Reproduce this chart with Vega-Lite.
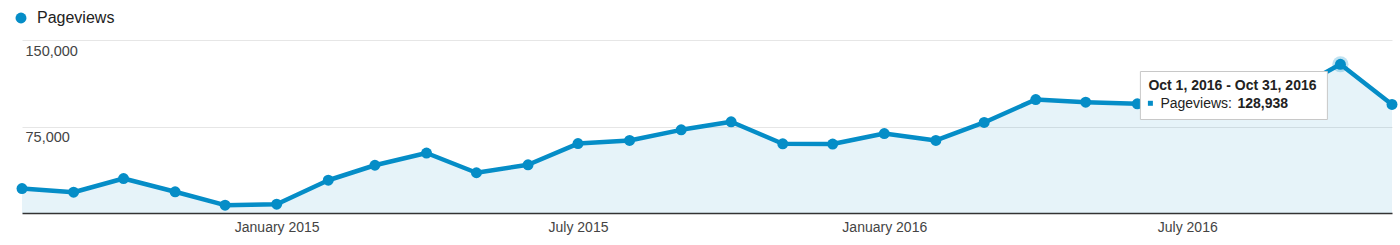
{
  "$schema": "https://vega.github.io/schema/vega-lite/v6.json",
  "autosize": {"type": "none"},
  "padding": {"left": 22, "top": 40, "right": 8, "bottom": 32},
  "width": 1370,
  "height": 173,
  "background": "white",
  "config": {"view": {"stroke": null}, "font": "Liberation Sans"},
  "data": {
    "values": [
      {"date": "2014-08-01", "pageviews": 21200},
      {"date": "2014-09-01", "pageviews": 18000},
      {"date": "2014-10-01", "pageviews": 29900},
      {"date": "2014-11-01", "pageviews": 18400},
      {"date": "2014-12-01", "pageviews": 6800},
      {"date": "2015-01-01", "pageviews": 7600},
      {"date": "2015-02-01", "pageviews": 28400},
      {"date": "2015-03-01", "pageviews": 41400},
      {"date": "2015-04-01", "pageviews": 52000},
      {"date": "2015-05-01", "pageviews": 34900},
      {"date": "2015-06-01", "pageviews": 41800},
      {"date": "2015-07-01", "pageviews": 60200},
      {"date": "2015-08-01", "pageviews": 62900},
      {"date": "2015-09-01", "pageviews": 72100},
      {"date": "2015-10-01", "pageviews": 79100},
      {"date": "2015-11-01", "pageviews": 60000},
      {"date": "2015-12-01", "pageviews": 59800},
      {"date": "2016-01-01", "pageviews": 68900},
      {"date": "2016-02-01", "pageviews": 62900},
      {"date": "2016-03-01", "pageviews": 78500},
      {"date": "2016-04-01", "pageviews": 98400},
      {"date": "2016-05-01", "pageviews": 96100},
      {"date": "2016-06-01", "pageviews": 94700},
      {"date": "2016-07-01", "pageviews": 97000},
      {"date": "2016-08-01", "pageviews": 100000},
      {"date": "2016-09-01", "pageviews": 105000},
      {"date": "2016-10-01", "pageviews": 128938},
      {"date": "2016-11-01", "pageviews": 94100}
    ]
  },
  "encoding": {
    "x": {
      "field": "date",
      "type": "temporal",
      "scale": {"type": "utc", "nice": false},
      "axis": {
        "title": null,
        "values": [
          {"year": 2015, "month": 1, "date": 1, "utc": true},
          {"year": 2015, "month": 7, "date": 1, "utc": true},
          {"year": 2016, "month": 1, "date": 1, "utc": true},
          {"year": 2016, "month": 7, "date": 1, "utc": true}
        ],
        "format": "%B %Y",
        "labelAlign": "center",
        "labelFlush": false,
        "labelOverlap": false,
        "labelPadding": 7,
        "labelFontSize": 14,
        "labelColor": "#444",
        "ticks": false,
        "grid": false,
        "domainColor": "#333",
        "domainWidth": 1.5
      }
    },
    "y": {
      "field": "pageviews",
      "type": "quantitative",
      "scale": {"domain": [0, 150000], "nice": false},
      "axis": {
        "title": null,
        "values": [75000, 150000],
        "format": ",.0f",
        "grid": true,
        "gridColor": "#e6e6e6",
        "domain": false,
        "ticks": false,
        "tickSize": 0,
        "labelAlign": "left",
        "labelBaseline": "middle",
        "labelPadding": -3,
        "labelOffset": 11,
        "labelFontSize": 14.5,
        "labelColor": "#444"
      }
    }
  },
  "layer": [
    {"mark": {"type": "area", "color": "#058dc7", "opacity": 0.1}},
    {"mark": {"type": "line", "color": "#058dc7", "strokeWidth": 4.5, "strokeJoin": "round"}},
    {
      "transform": [{"filter": "datum.pageviews == 128938"}],
      "mark": {"type": "point", "filled": true, "size": 260, "color": "#058dc7", "opacity": 0.25}
    },
    {
      "mark": {"type": "point", "filled": true, "size": 120, "opacity": 1},
      "encoding": {
        "color": {
          "datum": "Pageviews",
          "scale": {"range": ["#058dc7"]},
          "legend": {
            "title": null,
            "orient": "none",
            "legendX": -9,
            "legendY": -30,
            "padding": 0,
            "symbolType": "circle",
            "symbolSize": 120,
            "symbolOpacity": 1,
            "labelFontSize": 16,
            "labelColor": "#222",
            "labelOffset": 8
          }
        }
      }
    },
    {
      "transform": [{"filter": "datum.pageviews == 128938"}],
      "mark": {
        "type": "point",
        "shape": "M-1,-0.2567H1V0.2567H-1Z",
        "size": 34969,
        "filled": true,
        "fill": "white",
        "stroke": "#c8c8c8",
        "strokeWidth": 1,
        "opacity": 1,
        "xOffset": -106.5,
        "yOffset": 31.2
      }
    },
    {
      "transform": [{"filter": "datum.pageviews == 128938"}],
      "mark": {
        "type": "text",
        "text": "Oct 1, 2016 - Oct 31, 2016",
        "align": "left",
        "baseline": "middle",
        "fontWeight": "bold",
        "fontSize": 14,
        "color": "#222",
        "dx": -192,
        "dy": 22
      }
    },
    {
      "transform": [{"filter": "datum.pageviews == 128938"}],
      "mark": {
        "type": "point",
        "shape": "square",
        "size": 25,
        "filled": true,
        "color": "#058dc7",
        "opacity": 1,
        "xOffset": -190,
        "yOffset": 39
      }
    },
    {
      "transform": [{"filter": "datum.pageviews == 128938"}],
      "mark": {
        "type": "text",
        "text": "Pageviews:",
        "align": "left",
        "baseline": "middle",
        "fontSize": 14,
        "color": "#222",
        "dx": -180,
        "dy": 40
      }
    },
    {
      "transform": [{"filter": "datum.pageviews == 128938"}],
      "mark": {
        "type": "text",
        "align": "left",
        "baseline": "middle",
        "fontWeight": "bold",
        "fontSize": 14,
        "color": "#222",
        "dx": -103,
        "dy": 40
      },
      "encoding": {"text": {"field": "pageviews", "type": "quantitative", "format": ","}}
    }
  ]
}
